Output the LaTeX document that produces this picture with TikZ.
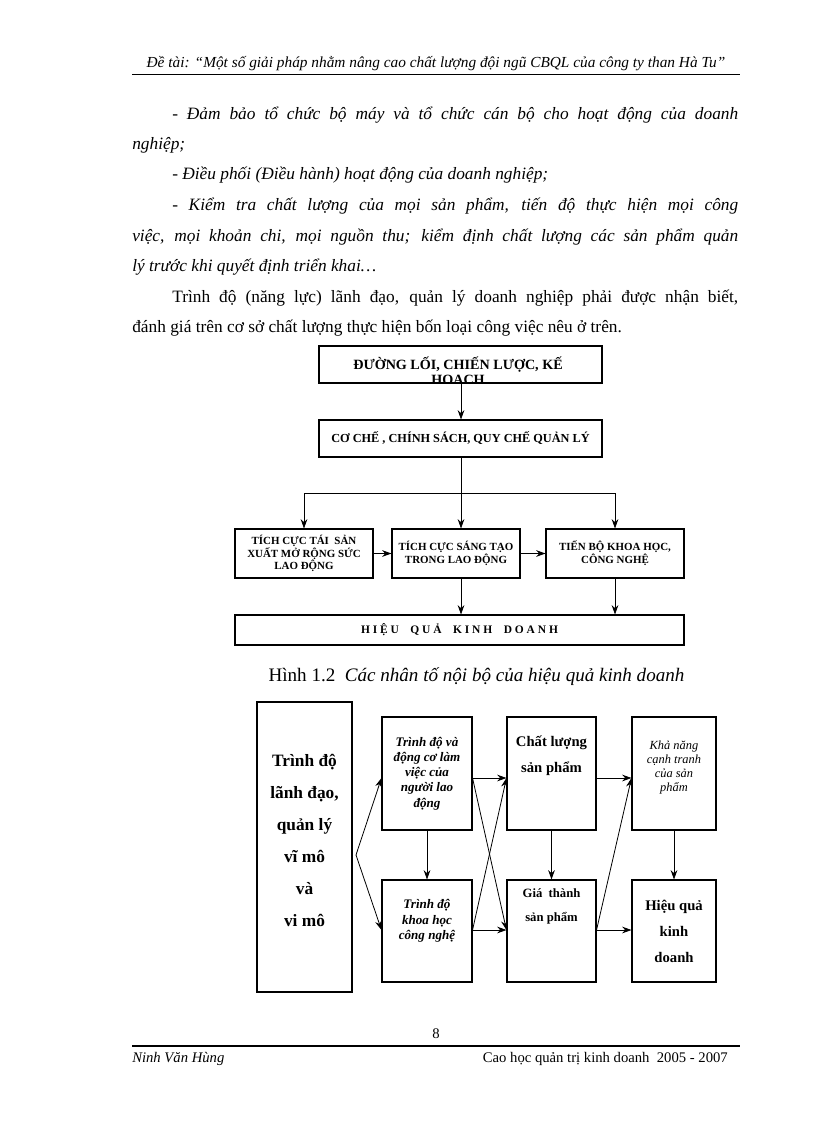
\documentclass[tikz,border=0pt]{standalone}
\usepackage{fontspec}
\setmainfont{Liberation Serif}
\usetikzlibrary{arrows.meta,positioning,calc}

\begin{document}
\begin{tikzpicture}[x=0.75pt,y=-0.75pt,
  cell/.style 2 args={draw,line width=0.8pt,inner sep=0pt,
    minimum width=#1*0.75pt,minimum height=#2*0.75pt},
  caps/.style={inner sep=0pt,align=center,font=\bfseries\fontsize{8.2}{9.6}\selectfont},
  arr/.style={-{Stealth[length=7pt,width=5pt]},line width=0.6pt},
  body/.style={anchor=base west,inner sep=0pt,font=\fontsize{13}{15}\selectfont},
  bodyit/.style={body,font=\itshape\fontsize{13}{15}\selectfont},
  small/.style={inner sep=0pt,align=center,font=\bfseries\itshape\fontsize{9.8}{11.4}\selectfont}
]
\fill[white] (0,0) rectangle (816,1123);
\useasboundingbox (0,0) rectangle (816,1123);

\node[anchor=base,inner sep=0pt,font=\itshape\fontsize{11.5}{13}\selectfont] (head) at (436,68)
  {Đề tài: “Một số giải pháp nhằm nâng cao chất lượng đội ngũ CBQL của công ty than Hà Tu”};
\draw[line width=0.5pt] (132,74) -- (740,74);

\node[bodyit] (t1) at (172,120) {\makebox[424.5pt][s]{- Đảm bảo tổ chức bộ máy và tổ chức cán bộ cho hoạt động của doanh}};
\node[bodyit] (t2) at (132,150) {nghiệp;};
\node[bodyit] (t3) at (172,180) {- Điều phối (Điều hành) hoạt động của doanh nghiệp;};
\node[bodyit] (t4) at (172,210) {\makebox[424.5pt][s]{- Kiểm tra chất lượng của mọi sản phẩm, tiến độ thực hiện mọi công}};
\node[bodyit] (t5) at (132,241) {\makebox[454.5pt][s]{việc, mọi khoản chi, mọi nguồn thu; kiểm định chất lượng các sản phẩm quản}};
\node[bodyit] (t6) at (132,271) {lý trước khi quyết định triển khai…};
\node[body] (t7) at (172,302) {\makebox[424.5pt][s]{Trình độ (năng lực) lãnh đạo, quản lý doanh nghiệp phải được nhận biết,}};
\node[body] (t8) at (132,332) {đánh giá trên cơ sở chất lượng thực hiện bốn loại công việc nêu ở trên.};

\node[cell={283}{37}] (strat) at (460.5,364.5) {};
\begin{scope}
  \clip (strat.north west) rectangle (strat.south east);
  \node[caps,font=\bfseries\fontsize{10.6}{10.8}\selectfont,anchor=north] (strattext) at (458,357) {ĐƯỜNG LỐI, CHIẾN LƯỢC, KẾ\\HOẠCH};
\end{scope}
\node[cell={283}{37},caps,font=\bfseries\fontsize{9.2}{11}\selectfont] (policy) at (460.5,438.5) {CƠ CHẾ , CHÍNH SÁCH, QUY CHẾ QUẢN LÝ};
\coordinate (split) at (461,493);
\node[cell={138}{49},caps] (reprod) at (304,553.5) {TÍCH CỰC TÁI \ SẢN\\XUẤT MỞ RỘNG SỨC\\LAO ĐỘNG};
\node[cell={128}{49},caps] (create) at (456,553.5) {TÍCH CỰC SÁNG TẠO\\TRONG LAO ĐỘNG};
\node[cell={138}{49},caps] (science) at (615,553.5) {TIẾN BỘ KHOA HỌC,\\CÔNG NGHỆ};
\node[cell={449}{30},caps,font=\bfseries\fontsize{8.6}{10}\selectfont] (effect) at (459.5,630) {H I Ệ U\quad Q U Ả\quad K I N H\quad D O A N H};
\draw[arr] (strat.south -| split) -- (policy.north -| split);
\draw[line width=0.6pt] (policy.south -| split) -- (split);
\draw[line width=0.6pt] (split -| reprod.north) -- (split -| science.north);
\draw[arr] (split -| reprod.north) -- (reprod.north);
\draw[arr] (split) -- (split |- create.north);
\draw[arr] (split -| science.north) -- (science.north);
\draw[arr] (reprod) -- (create);
\draw[arr] (create) -- (science);
\draw[arr] (create.south -| split) -- (effect.north -| split);
\draw[arr] (science.south) -- (effect.north -| science.south);

\node[anchor=base,inner sep=0pt,font=\fontsize{14.3}{16}\selectfont] (cap) at (476.5,681) {Hình 1.2\ \ \textit{Các nhân tố nội bộ của hiệu quả kinh doanh}};

\node[cell={95}{290},line width=2pt] (lead) at (304.5,847) {};
\node[inner sep=0pt,align=center,font=\bfseries\fontsize{13}{24}\selectfont] (leadtext) at (304.5,840) {Trình độ\\lãnh đạo,\\quản lý\\vĩ mô\\và\\vi mô};
\coordinate (fork) at (356,855);
\coordinate (rowa) at (0,778);
\coordinate (rowb) at (0,930);
\node[cell={90}{113},small] (worker) at (427,773.5) {Trình độ và\\động cơ làm\\việc của\\người lao\\động};
\node[cell={90}{102}] (tech) at (427,931) {};
\node[small,below=15pt of tech.north] (techtext) {Trình độ\\khoa học\\công nghệ};
\node[cell={89}{113}] (quality) at (551.5,773.5) {};
\node[inner sep=0pt,align=center,font=\bfseries\fontsize{11}{19}\selectfont,below=14.5pt of quality.north] (qualitytext) {Chất lượng\\sản phẩm};
\node[cell={89}{102}] (cost) at (551.5,931) {};
\node[inner sep=0pt,align=center,font=\bfseries\fontsize{9.5}{18}\selectfont,below=7pt of cost.north] (costtext) {Giá\ \ thành\\sản phẩm};
\node[cell={84}{113}] (compete) at (674,773.5) {};
\node[inner sep=0pt,align=center,font=\itshape\fontsize{9.3}{10.6}\selectfont,below=18pt of compete.north] (competetext) {Khả năng\\cạnh tranh\\của sản\\phẩm};
\node[cell={84}{102},align=center,font=\bfseries\fontsize{11}{19.5}\selectfont] (result) at (674,931) {Hiệu quả\\kinh\\doanh};
\draw[arr] (fork) -- (worker.west |- rowa);
\draw[arr] (fork) -- (tech.west |- rowb);
\draw[arr] (worker) -- (tech);
\draw[arr] (worker.east |- rowa) -- (quality.west |- rowa);
\draw[arr] (worker.east |- rowa) -- (cost.west |- rowb);
\draw[arr] (tech.east |- rowb) -- (cost.west |- rowb);
\draw[arr] (tech.east |- rowb) -- (quality.west |- rowa);
\draw[arr] (quality) -- (cost);
\draw[arr] (quality.east |- rowa) -- (compete.west |- rowa);
\draw[arr] (cost.east |- rowb) -- (result.west |- rowb);
\draw[arr] (cost.east |- rowb) -- (compete.west |- rowa);
\draw[arr] (compete) -- (result);

\node[anchor=base,inner sep=0pt,font=\fontsize{11}{13}\selectfont] (pg) at (436,1038) {8};
\draw[line width=1.5pt] (132,1046) -- (740,1046);
\node[anchor=base west,inner sep=0pt,font=\itshape\fontsize{11}{13}\selectfont] (auth) at (132,1062) {Ninh Văn Hùng};
\node[anchor=base east,inner sep=0pt,font=\fontsize{11}{13}\selectfont] (course) at (728,1062) {Cao học quản trị kinh doanh\ \ 2005 - 2007};
\end{tikzpicture}
\end{document}
